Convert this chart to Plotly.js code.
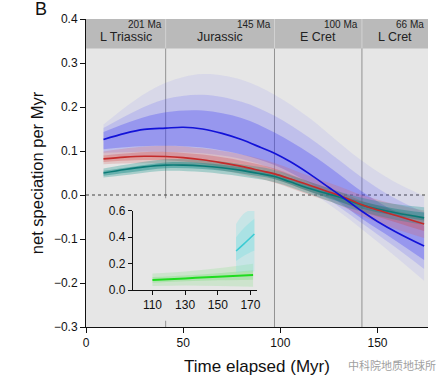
<!DOCTYPE html>
<html>
<head>
<meta charset="utf-8">
<script src="https://cdn.plot.ly/plotly-3.0.1.min.js"></script>
<style>html,body{margin:0;padding:0;background:#fff;}#chart{width:443px;height:384px;}</style>
</head>
<body>
<div id="chart"></div>
<script>
// ---- data ----
// main curves: time elapsed (Myr) vs net speciation per Myr
const T = [9, 20, 30, 41, 50, 60, 70, 80, 90, 97, 105, 115, 125, 130.5, 142, 150, 160, 174];
const blueMed = [0.126, 0.140, 0.149, 0.152, 0.154, 0.150, 0.140, 0.126, 0.108, 0.095, 0.076, 0.048, 0.017, 0.000, -0.037, -0.060, -0.085, -0.116];
const redMed  = [0.082, 0.086, 0.088, 0.0875, 0.085, 0.080, 0.073, 0.065, 0.055, 0.048, 0.037, 0.022, 0.007, -0.001, -0.022, -0.034, -0.047, -0.066];
const tealMed = [0.050, 0.058, 0.064, 0.068, 0.068, 0.066, 0.062, 0.056, 0.048, 0.042, 0.030, 0.015, 0.002, -0.005, -0.023, -0.032, -0.041, -0.052];

// posterior envelopes (outer / mid / inner)
const TB = [9, 25, 41, 60, 80, 97, 115, 130, 142, 158, 174];
const blueOutHi = [0.160, 0.215, 0.255, 0.275, 0.262, 0.228, 0.175, 0.120, 0.078, 0.032, -0.002];
const blueOutLo = [0.090, 0.088, 0.086, 0.082, 0.072, 0.048, 0.008, -0.037, -0.078, -0.135, -0.195];
const blueMidHi = [0.152, 0.190, 0.218, 0.228, 0.212, 0.180, 0.130, 0.080, 0.040, -0.005, -0.040];
const blueMidLo = [0.096, 0.098, 0.098, 0.095, 0.082, 0.058, 0.018, -0.026, -0.064, -0.115, -0.168];
const blueInHi  = [0.143, 0.170, 0.188, 0.192, 0.175, 0.142, 0.095, 0.048, 0.008, -0.035, -0.070];
const blueInLo  = [0.104, 0.110, 0.112, 0.108, 0.092, 0.068, 0.027, -0.016, -0.054, -0.100, -0.148];

const redOutHi = [0.099, 0.108, 0.112, 0.106, 0.092, 0.073, 0.043, 0.020, 0.000, -0.020, -0.035];
const redOutLo = [0.070, 0.072, 0.071, 0.063, 0.047, 0.028, 0.000, -0.022, -0.048, -0.075, -0.098];
const redInHi  = [0.090, 0.096, 0.098, 0.092, 0.078, 0.060, 0.030, 0.008, -0.013, -0.034, -0.050];
const redInLo  = [0.075, 0.079, 0.079, 0.071, 0.055, 0.037, 0.008, -0.013, -0.037, -0.060, -0.082];

const tealOutHi = [0.060, 0.072, 0.081, 0.080, 0.070, 0.057, 0.030, 0.008, -0.006, -0.020, -0.028];
const tealOutLo = [0.040, 0.048, 0.055, 0.052, 0.042, 0.029, 0.002, -0.022, -0.038, -0.055, -0.068];
const tealInHi  = [0.055, 0.065, 0.074, 0.073, 0.063, 0.050, 0.022, 0.000, -0.015, -0.030, -0.040];
const tealInLo  = [0.044, 0.053, 0.061, 0.059, 0.049, 0.036, 0.008, -0.015, -0.031, -0.046, -0.058];

// inset
const TG = [110, 130, 150, 171.6];
const greenMed   = [0.076, 0.088, 0.101, 0.114];
const greenOutHi = [0.125, 0.140, 0.165, 0.200];
const greenOutLo = [0.030, 0.035, 0.030, 0.025];
const greenInHi  = [0.098, 0.110, 0.128, 0.150];
const greenInLo  = [0.056, 0.066, 0.074, 0.078];
const TC = [161.2, 166, 172.4];
const cyanMed   = [0.296, 0.350, 0.425];
const cyanOutHi = [0.50, 0.58, 0.62];
const cyanOutLo = [0.13, 0.14, 0.14];
const cyanInHi  = [0.40, 0.47, 0.54];
const cyanInLo  = [0.22, 0.26, 0.30];

// periods
const periodNames = ['L Triassic', 'Jurassic', 'E Cret', 'L Cret'];
const periodStart = [0, 41, 97, 142];
const periodEnd   = [41, 97, 142, 176];
const periodAges  = ['201 Ma', '145 Ma', '100 Ma', '66 Ma'];

const xTicks = [0, 50, 100, 150];
const yTicks = [-0.3, -0.2, -0.1, 0.0, 0.1, 0.2, 0.3, 0.4];
const inXTicks = [110, 130, 150, 170];
const inYTicks = [0.0, 0.2, 0.4, 0.6];

// ---- traces ----
const traces = [];
function band(x, lo, hi, color, xa, ya) {
  traces.push({x: x, y: lo, type: 'scatter', mode: 'lines', line: {width: 0, shape: 'spline', color: color},
    hoverinfo: 'skip', showlegend: false, xaxis: xa, yaxis: ya});
  traces.push({x: x, y: hi, type: 'scatter', mode: 'lines', line: {width: 0, shape: 'spline', color: color},
    fill: 'tonexty', fillcolor: color, hoverinfo: 'skip', showlegend: false, xaxis: xa, yaxis: ya});
}
function line(x, y, color, w, xa, ya) {
  traces.push({x: x, y: y, type: 'scatter', mode: 'lines', line: {width: w, shape: 'spline', color: color},
    showlegend: false, xaxis: xa, yaxis: ya});
}
band(TB, blueOutLo, blueOutHi, 'rgba(80,80,250,0.09)', 'x', 'y');
band(TB, blueMidLo, blueMidHi, 'rgba(70,70,250,0.17)', 'x', 'y');
band(TB, blueInLo, blueInHi, 'rgba(60,60,245,0.30)', 'x', 'y');
band(TB, redOutLo, redOutHi, 'rgba(215,100,100,0.25)', 'x', 'y');
band(TB, redInLo, redInHi, 'rgba(210,70,70,0.30)', 'x', 'y');
band(TB, tealOutLo, tealOutHi, 'rgba(0,140,130,0.28)', 'x', 'y');
band(TB, tealInLo, tealInHi, 'rgba(0,130,125,0.38)', 'x', 'y');
line(T, tealMed, '#0b7a76', 1.6, 'x', 'y');
line(T, redMed, '#c42a2a', 1.6, 'x', 'y');
line(T, blueMed, '#1212d8', 1.7, 'x', 'y');

band(TG, greenOutLo, greenOutHi, 'rgba(60,220,60,0.14)', 'x2', 'y2');
band(TG, greenInLo, greenInHi, 'rgba(60,220,60,0.20)', 'x2', 'y2');
band(TC, cyanOutLo, cyanOutHi, 'rgba(120,225,230,0.28)', 'x2', 'y2');
band(TC, cyanInLo, cyanInHi, 'rgba(110,220,225,0.32)', 'x2', 'y2');
line(TG, greenMed, '#1fdc1f', 2, 'x2', 'y2');
line(TC, cyanMed, '#3ccbd3', 1.6, 'x2', 'y2');

// ---- shapes & annotations ----
const shapes = [];
const annotations = [];
for (let i = 1; i < periodStart.length; i++) {
  shapes.push({type: 'line', xref: 'x', yref: 'paper', x0: periodStart[i], x1: periodStart[i], y0: 0, y1: 1,
    line: {color: '#929292', width: 1}, layer: 'below'});
}
// inset background covering the boundary lines
shapes.push({type: 'rect', xref: 'paper', yref: 'paper', x0: 0.04, x1: 0.535, y0: 0.02, y1: 0.418,
  fillcolor: '#e6e6e6', line: {width: 0}, layer: 'below'});
// header strip
shapes.push({type: 'rect', xref: 'x', yref: 'y', x0: 0, x1: 176, y0: 0.333, y1: 0.4,
  fillcolor: '#bababa', line: {width: 0}, layer: 'below'});
for (let i = 1; i < periodStart.length; i++) {
  shapes.push({type: 'line', xref: 'x', yref: 'y', x0: periodStart[i], x1: periodStart[i], y0: 0.333, y1: 0.4,
    line: {color: '#d2d2d2', width: 1}, layer: 'below'});
}
// zero line
shapes.push({type: 'line', xref: 'paper', yref: 'y', x0: 0, x1: 1, y0: 0, y1: 0,
  line: {color: '#444', width: 1, dash: 'dot'}, layer: 'below'});

for (let i = 0; i < periodNames.length; i++) {
  annotations.push({xref: 'x', yref: 'paper', x: (periodStart[i] + periodEnd[i]) / 2, y: 0.94,
    text: periodNames[i], showarrow: false, xanchor: 'center', yanchor: 'middle',
    font: {family: 'Liberation Sans, Arial, sans-serif', size: 12.5, color: '#222'}});
  annotations.push({xref: 'x', yref: 'paper', x: periodEnd[i] - 0.8, y: 0.982,
    text: periodAges[i], showarrow: false, xanchor: 'right', yanchor: 'middle',
    font: {family: 'Liberation Sans, Arial, sans-serif', size: 10, color: '#222'}});
}
annotations.push({xref: 'paper', yref: 'paper', x: -0.132, y: 1.033, text: 'B', showarrow: false,
  xanchor: 'center', yanchor: 'middle', font: {family: 'Liberation Sans, Arial, sans-serif', size: 18, color: '#111'}});
annotations.push({xref: 'paper', yref: 'paper', x: 0.895, y: -0.124, text: '中科院地质地球所', showarrow: false,
  xanchor: 'center', yanchor: 'middle', font: {family: 'Noto Sans CJK SC, sans-serif', size: 11, color: '#a0a0a0'}});

const tickFont = {family: 'Liberation Sans, Arial, sans-serif', size: 12, color: '#111'};
const inFont = {family: 'Liberation Sans, Arial, sans-serif', size: 12, color: '#111'};
const layout = {
  width: 443, height: 384,
  margin: {l: 86, r: 15, t: 19, b: 57, pad: 0},
  paper_bgcolor: '#ffffff',
  plot_bgcolor: '#e6e6e6',
  showlegend: false,
  xaxis: {range: [0, 176], tickvals: xTicks, ticktext: xTicks.map(String), ticks: 'outside', ticklen: 5,
    tickcolor: '#111', showline: true, linecolor: '#111', linewidth: 1, showgrid: false, zeroline: false,
    tickfont: tickFont, domain: [0, 1],
    title: {text: 'Time elapsed (Myr)', font: {family: 'Liberation Sans, Arial, sans-serif', size: 17, color: '#111'}, standoff: 10}},
  yaxis: {range: [-0.3, 0.4], tickvals: yTicks, tickformat: '.1f', ticks: 'outside', ticklen: 5,
    tickcolor: '#111', showline: true, linecolor: '#111', linewidth: 1, showgrid: false, zeroline: false,
    tickfont: tickFont, domain: [0, 1],
    title: {text: 'net speciation per Myr', font: {family: 'Liberation Sans, Arial, sans-serif', size: 16.5, color: '#111'}, standoff: 6}},
  xaxis2: {range: [98, 174], domain: [0.137, 0.5], anchor: 'y2', tickvals: inXTicks, ticks: 'outside', ticklen: 4,
    tickcolor: '#111', showline: true, linecolor: '#111', linewidth: 1, showgrid: false, zeroline: false,
    tickfont: inFont},
  yaxis2: {range: [0, 0.6], domain: [0.12, 0.377], anchor: 'x2', tickvals: inYTicks, tickformat: '.1f', ticks: 'outside', ticklen: 4,
    tickcolor: '#111', showline: true, linecolor: '#111', linewidth: 1, showgrid: false, zeroline: false,
    tickfont: inFont},
  shapes: shapes,
  annotations: annotations
};

Plotly.newPlot('chart', traces, layout, {displayModeBar: false, staticPlot: true});
</script>
</body>
</html>
